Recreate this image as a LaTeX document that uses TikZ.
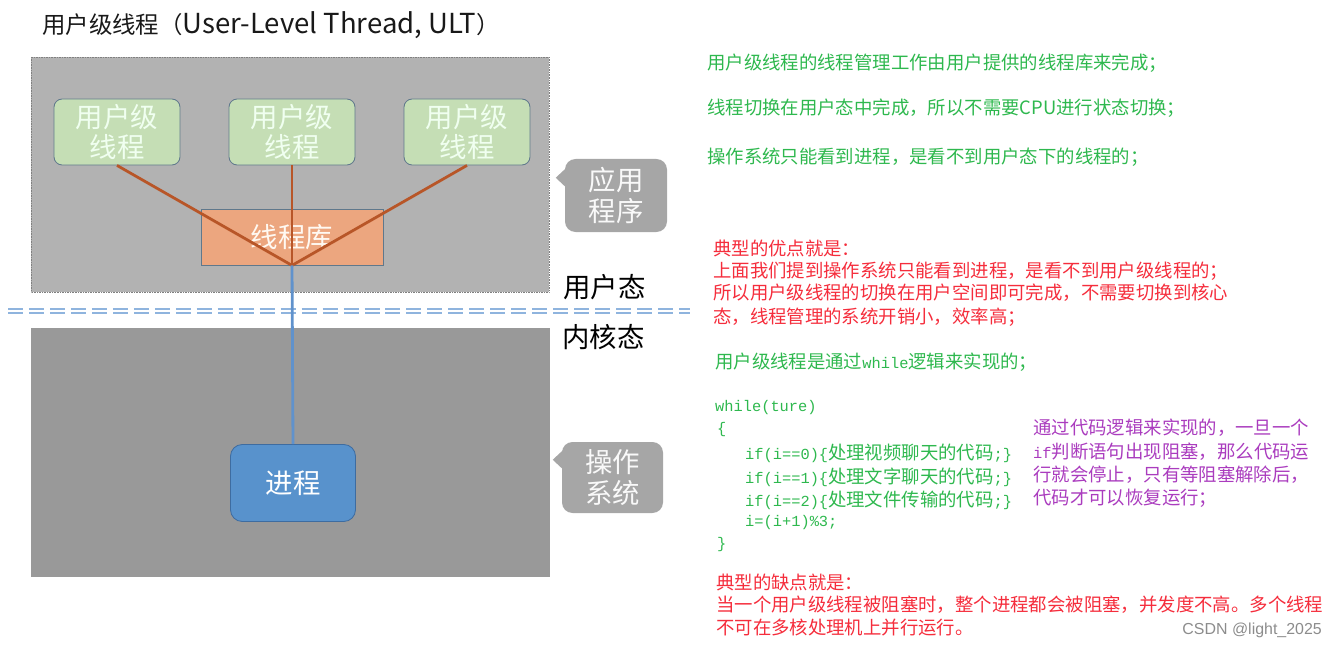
\documentclass[tikz,border=0pt]{standalone}
\usepackage{fontspec}
\setmainfont{Noto Sans CJK SC}
\newfontfamily\codefont[Scale=0.835]{Liberation Mono}
\newfontfamily\wmfont{Liberation Sans}
\definecolor{ultgreen}{RGB}{197,222,181}
\definecolor{libsalmon}{RGB}{236,166,127}
\definecolor{procblue}{RGB}{88,146,204}
\definecolor{edgegray}{RGB}{95,120,140}
\definecolor{upperbg}{RGB}{178,178,178}
\definecolor{lowerbg}{RGB}{153,153,153}
\definecolor{callgray}{RGB}{166,166,166}
\definecolor{libbrown}{RGB}{184,86,40}
\definecolor{linkblue}{RGB}{96,146,204}
\definecolor{divblue}{RGB}{143,180,222}
\definecolor{notegreen}{RGB}{46,184,78}
\definecolor{notered}{RGB}{245,45,60}
\definecolor{notepurple}{RGB}{170,60,190}
\newcommand{\bigfont}{\fontsize{23.4}{26}\selectfont}
\newcommand{\notefont}{\fontsize{15.7}{18}\selectfont}
\newcommand{\ccode}[1]{{\codefont #1}}
% #1: colour, #2: name, #3: position, #4: text
\newcommand{\txtline}[4]{\node[note,#1] (#2) at (#3) {#4};}

\begin{document}
\begin{tikzpicture}[x=0.03cm,y=-0.03cm,
	ult/.style={draw=edgegray,fill=ultgreen,rounded corners=7pt,line width=0.7pt,minimum width=3.78cm,minimum height=1.98cm,inner sep=0pt,align=center,text=white!94!green,font=\bigfont},
	callout/.style={fill=callgray,rounded corners=9pt,inner sep=0pt,align=center,text=white!95!gray,font=\bigfont},
	note/.style={anchor=west,inner sep=0pt,font=\notefont},
	libline/.style={libbrown,line width=2.4pt},
	divider/.style={divblue,line width=1.7pt,double=white,double distance=2.1pt,dash pattern=on 12.8pt off 5.1pt}]
	\useasboundingbox (0,0) rectangle (1336,648);
	
	% Title
	\node[anchor=west,inner sep=0pt,font=\fontsize{20}{24}\selectfont,text={black!90}] (title) at (42,25) {用户级线程（{\fontsize{23.5}{24}\selectfont User-Level Thread, ULT}）};
	
	% Draw the user space and the kernel space
	\draw[fill=upperbg,draw=gray,densely dotted] (31,57) rectangle (549,292);
	\fill[lowerbg] (31,328) rectangle (550,577);
	
	% Draw the divider
	\coordinate (divl) at (8,311);
	\coordinate (divr) at (690,311);
	\draw[divider] (divl) -- (divr);
	
	% User-level threads and the library
	\node[ult] (ult1) at (117,132) {用户级\\线程};
	\node[ult] (ult2) at (292,132) {用户级\\线程};
	\node[ult] (ult3) at (467,132) {用户级\\线程};
	\node[draw=edgegray,fill=libsalmon,line width=0.7pt,minimum width=5.46cm,minimum height=1.68cm,inner sep=0pt,text=white!95!orange,font=\bigfont] (lib) at (292,237) {线程库};
	
	% Process
	\node[draw={rgb,255:red,62;green,108;blue,160},fill=procblue,rounded corners=10pt,line width=0.7pt,minimum width=3.75cm,minimum height=2.31cm,inner sep=0pt,text=white,font=\bigfont] (proc) at (293,483) {进程};
	
	% Making links
	\draw[libline] (ult1.south) -- (lib.south);
	\draw[libline] (ult2.south) -- (lib.south);
	\draw[libline] (ult3.south) -- (lib.south);
	\draw[linkblue,line width=2.4pt] (lib.south) -- (proc.north);
	
	% Callouts
	\node[callout,minimum width=3.06cm,minimum height=2.19cm] (app) at (616,195.5) {应用\\程序};
	\fill[callgray] ([xshift=0.05cm,yshift=-0.27cm]app.north west) -- ++(-10.7,10) -- ++(10.7,10) -- cycle;
	\node[callout,minimum width=3.03cm,minimum height=2.13cm] (os) at (612.5,477.5) {操作\\系统};
	\fill[callgray] ([xshift=0.05cm,yshift=-0.24cm]os.north west) -- ++(-10.7,10) -- ++(10.7,10) -- cycle;
	
	% Modes
	\node[anchor=west,inner sep=0pt,font=\bigfont] (usermode) at (563,287) {用户态};
	\node[anchor=west,inner sep=0pt,font=\bigfont] (kernelmode) at (562,337) {内核态};
	
	% Notes
	\txtline{notegreen}{g1}{707,63}{用户级线程的线程管理工作由用户提供的线程库来完成；}
	\txtline{notegreen}{g2}{707,108}{线程切换在用户态中完成，所以不需要CPU进行状态切换；}
	\txtline{notegreen}{g3}{707,157}{操作系统只能看到进程，是看不到用户态下的线程的；}
	
	\txtline{notered}{r1}{713,248}{典型的优点就是：}
	\txtline{notered}{r2}{713,271}{上面我们提到操作系统只能看到进程，是看不到用户级线程的；}
	\txtline{notered}{r3}{713,293}{所以用户级线程的切换在用户空间即可完成，不需要切换到核心}
	\txtline{notered}{r4}{713,317}{态，线程管理的系统开销小，效率高；}
	
	\txtline{notegreen}{g4}{715,362}{用户级线程是通过\ccode{while}逻辑来实现的；}
	
	% Code
	\txtline{notegreen}{c1}{715,408}{\ccode{while(ture)}}
	\txtline{notegreen}{c2}{717,430}{\ccode{\{}}
	\txtline{notegreen}{c3}{745,453}{\ccode{if(i==0)\{}处理视频聊天的代码\ccode{;\}}}
	\txtline{notegreen}{c4}{745,477}{\ccode{if(i==1)\{}处理文字聊天的代码\ccode{;\}}}
	\txtline{notegreen}{c5}{745,500}{\ccode{if(i==2)\{}处理文件传输的代码\ccode{;\}}}
	\txtline{notegreen}{c6}{745,523}{\ccode{i=(i+1)\%3;}}
	\txtline{notegreen}{c7}{717,545}{\ccode{\}}}
	
	\txtline{notepurple}{p1}{1033,428}{通过代码逻辑来实现的，一旦一个}
	\txtline{notepurple}{p2}{1033,452}{\ccode{if}判断语句出现阻塞，那么代码运}
	\txtline{notepurple}{p3}{1033,475}{行就会停止，只有等阻塞解除后，}
	\txtline{notepurple}{p4}{1033,498}{代码才可以恢复运行；}
	
	\txtline{notered}{d1}{716,582}{典型的缺点就是：}
	\txtline{notered}{d2}{716,605}{当一个用户级线程被阻塞时，整个进程都会被阻塞，并发度不高。多个线程}
	\txtline{notered}{d3}{716,628}{不可在多核处理机上并行运行。}
	
	% Watermark
	\node[anchor=east,inner sep=0pt,font=\wmfont\fontsize{13.6}{16}\selectfont,text={black!45}] (mark) at (1322,630) {CSDN @light\_2025};
\end{tikzpicture}
\end{document}
